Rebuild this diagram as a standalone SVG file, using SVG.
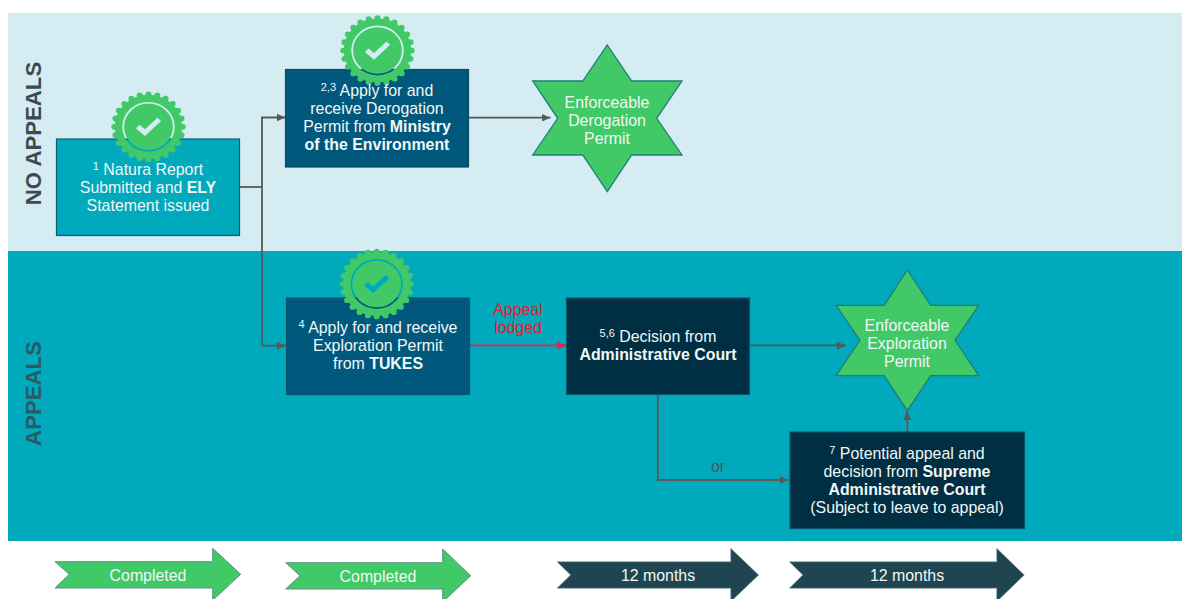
<svg xmlns="http://www.w3.org/2000/svg" width="1182" height="599" viewBox="0 0 1182 599">
  <style>
    text { font-family: "Liberation Sans", Arial, sans-serif; font-size: 15.9px; text-anchor: middle; fill: #f2f7f7; }
    .b { font-weight: bold; }
    .sup { font-size: 11px; }
    .side { font-size: 22.2px; font-weight: bold; }
    .box { stroke-width: 1.2; }
    .star { fill: #40c966; stroke: #1f7f78; stroke-width: 1.3; stroke-linejoin: miter; }
    .step-g { fill: #40c966; stroke: #5f8f88; stroke-width: 1; }
    .step-d { fill: #1f4650; stroke: #8aa0a6; stroke-width: .6; }
    .conn { fill: none; stroke: #595959; stroke-width: 1.8; }
    .red { stroke: #e8204a; }
  </style>
  <defs>
    <marker id="ah" markerUnits="userSpaceOnUse" markerWidth="10" markerHeight="10" refX="9" refY="4.5" orient="auto">
      <path d="M0,0.5 L9,4.5 L0,8.5 Z" fill="#595959"/>
    </marker>
    <marker id="ahr" markerUnits="userSpaceOnUse" markerWidth="10" markerHeight="10" refX="9" refY="4.5" orient="auto">
      <path d="M0,0.5 L9,4.5 L0,8.5 Z" fill="#e8204a"/>
    </marker>
    <mask id="sealmask" maskUnits="userSpaceOnUse" x="-42" y="-42" width="84" height="84">
      <circle r="33.8" fill="#fff"/>
      <circle r="34.2" fill="none" stroke="#fff" stroke-width="6" stroke-linecap="round" pathLength="24" stroke-dasharray="0 1"/>
      <circle r="25.3" fill="none" stroke="#000" stroke-width="1.8"/>
      <path d="M-9,-2.2 L-3.5,2.7 L9,-9.5 L12.6,-6 L-3.5,9.8 L-12.6,1.5 Z" fill="#000"/>
    </mask>
    <g id="seal"><rect x="-42" y="-42" width="84" height="84" fill="#40c966" mask="url(#sealmask)"/></g>
  </defs>

  <rect x="0" y="0" width="1182" height="599" fill="#ffffff"/>
  <g id="bands">
    <rect x="8" y="13" width="1174" height="238" fill="#d6ecf3"/>
    <rect x="8" y="251" width="1174" height="290" fill="#00a9bc"/>
    <text class="side" transform="translate(41,133.5) rotate(-90)" style="fill:#3d4a50">NO APPEALS</text>
    <text class="side" transform="translate(41,393.5) rotate(-90)" style="fill:#2a5a68">APPEALS</text>
  </g>

  <g id="connectors">
    <path class="conn" d="M240,187 H262"/>
    <path class="conn" d="M262,345.7 V117.5 H285.5" marker-end="url(#ah)"/>
    <path class="conn" d="M262,345.7 H286" marker-end="url(#ah)"/>
    <path class="conn" d="M469,117.7 H550.5" marker-end="url(#ah)"/>
    <path class="conn red" d="M469.5,345.4 H566" marker-end="url(#ahr)"/>
    <path class="conn" d="M750,345.4 H846" marker-end="url(#ah)"/>
    <path class="conn" d="M657.8,394.5 V480 H788.5" marker-end="url(#ah)"/>
    <path class="conn" d="M907.3,432 V411" marker-end="url(#ah)"/>
  </g>

  <g id="node-natura">
    <rect class="box" x="56.5" y="139" width="183" height="96.5" fill="#00a9bc" stroke="#0b5f6e"/>
    <use href="#seal" transform="translate(148.5,126.8) scale(1,.95)"/>
    <text x="148" y="175"><tspan class="sup" dy="-5">1</tspan><tspan dy="5"> Natura Report</tspan></text>
    <text x="148" y="193">Submitted and <tspan class="b">ELY</tspan></text>
    <text x="148" y="210.7">Statement issued</text>
  </g>

  <g id="node-derogation">
    <rect class="box" x="285.5" y="69.5" width="183" height="97.5" fill="#00587c" stroke="#0e4a60"/>
    <use href="#seal" transform="translate(377.5,50.5) scale(1,.95)"/>
    <text x="377" y="96"><tspan class="sup" dy="-5">2,3</tspan><tspan dy="5"> Apply for and</tspan></text>
    <text x="377" y="114">receive Derogation</text>
    <text x="377" y="132">Permit from <tspan class="b">Ministry</tspan></text>
    <text x="377" y="150" class="b">of the Environment</text>
  </g>

  <g id="star-derogation">
    <polygon class="star" points="607.3,45 631.7,81 682,81 656.7,118.3 682,155 631.7,155 607.3,191.7 582.7,155 532.7,155 557.7,118.3 532.7,81 582.7,81"/>
    <text x="607" y="108">Enforceable</text>
    <text x="607" y="126">Derogation</text>
    <text x="607" y="144">Permit</text>
  </g>

  <g id="node-exploration">
    <rect class="box" x="286.5" y="298" width="183" height="96.5" fill="#00587c" stroke="#07566e"/>
    <use href="#seal" transform="translate(376.7,284) scale(1,.95)"/>
    <text x="378" y="332.7"><tspan class="sup" dy="-5">4</tspan><tspan dy="5"> Apply for and receive</tspan></text>
    <text x="378" y="350.7">Exploration Permit</text>
    <text x="378" y="368.7">from <tspan class="b">TUKES</tspan></text>
  </g>

  <g id="label-appeal">
    <text x="518" y="315" style="fill:#e0202a">Appeal</text>
    <text x="518" y="333" style="fill:#e0202a">lodged</text>
  </g>

  <g id="node-court">
    <rect class="box" x="566.5" y="298" width="183" height="96.5" fill="#002e42" stroke="#07566e"/>
    <text x="658" y="341.7"><tspan class="sup" dy="-5">5,6</tspan><tspan dy="5"> Decision from</tspan></text>
    <text x="658" y="359.7" class="b">Administrative Court</text>
  </g>

  <g id="star-exploration">
    <polygon class="star" points="907.3,270 930.7,305.3 978.7,305.3 955,340.3 978.7,375.7 930.7,375.7 907.3,410.7 884.3,375.7 836,375.7 860,340.3 836,305.3 884.3,305.3"/>
    <text x="907" y="330.7">Enforceable</text>
    <text x="907" y="348.7">Exploration</text>
    <text x="907" y="366.7">Permit</text>
  </g>

  <g id="label-or">
    <text x="718" y="472" style="fill:#3f5e66">or</text>
  </g>

  <g id="node-supreme">
    <rect class="box" x="790" y="432" width="234.5" height="96.5" fill="#002e42" stroke="#07566e"/>
    <text x="907" y="459"><tspan class="sup" dy="-5">7</tspan><tspan dy="5"> Potential appeal and</tspan></text>
    <text x="907" y="477">decision from <tspan class="b">Supreme</tspan></text>
    <text x="907" y="495" class="b">Administrative Court</text>
    <text x="907" y="513">(Subject to leave to appeal)</text>
  </g>

  <g id="step-1">
    <polygon class="step-g" points="55,561.7 212.7,561.7 212.7,548.3 240.7,574.3 212.7,600.3 212.7,588 55,588 69.3,574.3"/>
    <text x="148" y="580.7">Completed</text>
  </g>
  <g id="step-2">
    <polygon class="step-g" points="285.7,562.7 442.7,562.7 442.7,549 470.7,575.7 442.7,602 442.7,589 285.7,589 300,575.7"/>
    <text x="378" y="581.5">Completed</text>
  </g>
  <g id="step-3">
    <polygon class="step-d" points="557,561.7 730.7,561.7 730.7,548.3 758.7,575 730.7,601.7 730.7,588.3 557,588.3 570.5,575"/>
    <text x="658" y="580.5">12 months</text>
  </g>
  <g id="step-4">
    <polygon class="step-d" points="789.3,561.7 996.7,561.7 996.7,548.3 1024.3,575 996.7,601.7 996.7,588.3 789.3,588.3 802.7,575"/>
    <text x="907" y="580.5">12 months</text>
  </g>
</svg>
